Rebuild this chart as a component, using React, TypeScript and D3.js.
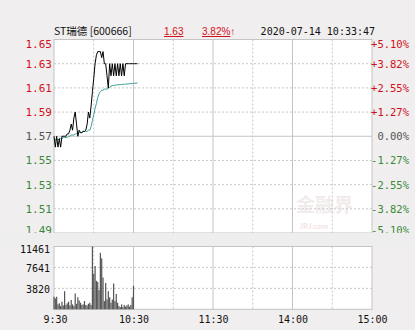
import React from "react";
import * as d3 from "d3";

const W = 415, H = 330;
const stockName = "ST瑞德 [600666]";
const lastPrice = "1.63";
const changePct = "3.82%";
const timestamp = "2020-07-14 10:33:47";
const prevClose = 1.57;

const priceTicks = [1.65, 1.63, 1.61, 1.59, 1.57, 1.55, 1.53, 1.51, 1.49];
const pctLabels = ["+5.10%", "+3.82%", "+2.55%", "+1.27%", "0.00%", "-1.27%", "-2.55%", "-3.82%", "-5.10%"];
const volTicks = [11461, 7641, 3820];
const timeLabels = ["9:30", "10:30", "11:30", "14:00", "15:00"];
const timeLabelMinutes = [0, 60, 120, 180, 240];

const prices = [1.57,1.561,1.57,1.561,1.568,1.561,1.57,1.57,1.57,1.57,1.572,1.572,1.575,1.58,1.575,1.585,1.59,1.58,1.57,1.575,1.573,1.573,1.574,1.574,1.575,1.58,1.59,1.585,1.595,1.607,1.618,1.63,1.637,1.64,1.64,1.64,1.635,1.64,1.63,1.63,1.62,1.61,1.63,1.62,1.63,1.62,1.63,1.62,1.63,1.62,1.63,1.62,1.63,1.62,1.63,1.63,1.63,1.63,1.63,1.63,1.63,1.63,1.63,1.63];
const avgPrices = [1.568,1.567,1.568,1.567,1.568,1.568,1.568,1.569,1.569,1.569,1.569,1.57,1.57,1.571,1.571,1.571,1.572,1.572,1.572,1.573,1.573,1.573,1.574,1.574,1.574,1.574,1.575,1.575,1.578,1.583,1.588,1.593,1.597,1.602,1.605,1.607,1.608,1.608,1.609,1.609,1.609,1.6095,1.6105,1.6115,1.612,1.612,1.6122,1.6124,1.6125,1.6126,1.6127,1.6128,1.6129,1.613,1.6131,1.6132,1.6133,1.6134,1.6135,1.6136,1.6137,1.6138,1.6139,1.614];
const volumes = [2300,2000,2300,900,1100,600,1400,700,3300,800,1100,1400,700,1700,900,600,2900,1000,2200,1600,1200,800,900,1500,800,700,1000,1200,800,11461,6500,7900,5200,5000,3500,10300,9300,5800,1500,4800,1800,3300,2200,1200,1800,4700,1500,2800,1200,600,400,900,400,800,500,700,900,500,800,2200,4300];

const L = 54, R = 372;
const PT = 39.5, PB = 233;
const VT = 246.5, VB = 309.3;
const RED = "#d0101a", GREEN = "#3a8a3a", GRAY = "#555";
const MONO = "'DejaVu Sans Mono', monospace";

export default function App() {
  const x = d3.scaleLinear().domain([0, 240]).range([L, R]);
  const y = d3.scaleLinear().domain([1.49, 1.65]).range([PB, PT]);
  const yv = d3.scaleLinear().domain([0, 11461]).range([VB, VT]);
  const line = d3.line<number>().x((_, i) => x(i)).y(d => y(d));
  const vLines = d3.range(0, 9).map(k => k * 30);
  const colorFor = (p: number) => (Math.abs(p - prevClose) < 1e-9 ? GRAY : p > prevClose ? RED : GREEN);
  const labelY = (v: number) => Math.min(Math.max(y(v) + 1, 45), 231);

  return (
    <svg width={W} height={H} style={{ position: "absolute", left: 0, top: 0 }}>
      <rect width={W} height={H} fill="#f0eeee" />
      {/* header */}
      <text x={L} y={35} fontSize={10.5} fontFamily="'Noto Sans CJK SC', 'DejaVu Sans', sans-serif" fill="#111">{stockName}</text>
      <text x={164} y={35} fontSize={10} fontFamily="'Liberation Sans', sans-serif" fill={RED} textDecoration="underline">{lastPrice}</text>
      <text x={202} y={35} fontSize={10} fontFamily="'Liberation Sans', sans-serif" fill={RED}>
        <tspan textDecoration="underline">{changePct}</tspan><tspan>↑</tspan>
      </text>
      <text x={375} y={35} textAnchor="end" fontSize={10} fontFamily={MONO} fill="#111">{timestamp}</text>

      {/* price panel */}
      <rect x={L} y={PT} width={R - L} height={PB - PT} fill="#fff" stroke="#c4c4c4" />
      {priceTicks.slice(1, -1).map(p => (
        <line key={p} x1={L} x2={R} y1={y(p)} y2={y(p)} stroke={p === prevClose ? "#c4c4c4" : "#c8c8c8"} strokeDasharray={p === prevClose ? undefined : "2,2"} />
      ))}
      {vLines.slice(1, -1).map(m => (
        <line key={m} x1={x(m)} x2={x(m)} y1={PT} y2={PB} stroke="#c4c4c4" strokeDasharray={m % 60 === 0 ? undefined : "2,2"} />
      ))}
      <g opacity={0.35} fontFamily="'Noto Sans CJK SC', sans-serif" fontWeight="bold">
        <text x={296} y={212} fontSize={19} fill="#d8c8c8">金融界</text>
        <text x={299} y={229} fontSize={7} fill="#e0b0b0">JRJ.com</text>
      </g>
      <path d={line(avgPrices) || ""} fill="none" stroke="#3d9d96" strokeWidth={1} />
      <path d={line(prices) || ""} fill="none" stroke="#000" strokeWidth={1} />
      {priceTicks.map((p, i) => (
        <g key={p}>
          <text x={52} y={labelY(p)} textAnchor="end" dominantBaseline="middle" fontSize={11} fontFamily={MONO} fill={colorFor(p)}>{p.toFixed(2)}</text>
          <text x={409} y={labelY(p)} textAnchor="end" dominantBaseline="middle" fontSize={10.5} fontFamily={MONO} fill={colorFor(p)}>{pctLabels[i]}</text>
        </g>
      ))}

      {/* band */}
      <rect x={0} y={PB} width={W} height={VT - PB} fill="#eeeeee" />

      {/* volume panel */}
      <rect x={L} y={VT} width={R - L} height={VB - VT} fill="#fff" stroke="#c4c4c4" />
      {volTicks.slice(1).map(v => (
        <line key={v} x1={L} x2={R} y1={yv(v)} y2={yv(v)} stroke="#c8c8c8" strokeDasharray="2,2" />
      ))}
      {vLines.slice(1, -1).map(m => (
        <line key={m} x1={x(m)} x2={x(m)} y1={VT} y2={VB} stroke="#c4c4c4" strokeDasharray={m % 60 === 0 ? undefined : "2,2"} />
      ))}
      {volumes.map((v, i) => (
        <rect key={i} x={x(i) - 0.6} y={yv(v)} width={1.2} height={VB - yv(v)} fill="#555" />
      ))}
      {volTicks.map(v => (
        <text key={v} x={50} y={Math.max(yv(v) + 2, 249.5)} textAnchor="end" dominantBaseline="middle" fontSize={10} fontFamily={MONO} fill="#111">{v}</text>
      ))}
      {timeLabels.map((t, i) => (
        <text key={t} x={x(timeLabelMinutes[i]) + (i === 0 ? 1.5 : 0.5)} y={323} textAnchor="middle" fontSize={10} fontFamily={MONO} fill="#111">{t}</text>
      ))}
    </svg>
  );
}
